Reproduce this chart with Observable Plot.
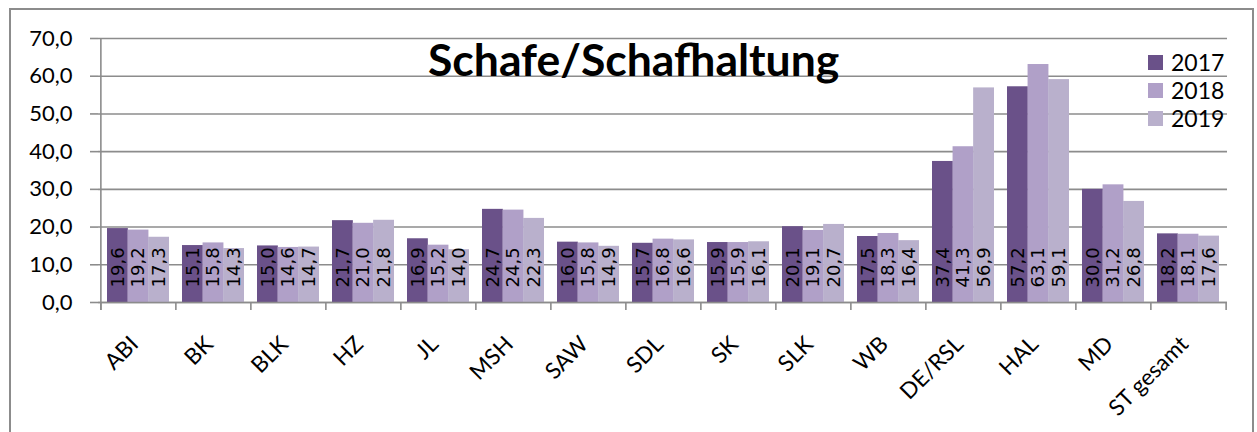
<!DOCTYPE html>
<html>
<head>
<meta charset="utf-8">
<script src="https://cdn.jsdelivr.net/npm/d3@7"></script>
<script src="https://cdn.jsdelivr.net/npm/@observablehq/plot@0.6"></script>
<style>
  html, body { margin: 0; padding: 0; background: #fff; width: 1257px; height: 432px; overflow: hidden; }
  #frame { position: absolute; left: 9px; top: 8px; width: 1245px; height: 440px; border: 2px solid #8c8c8c; box-sizing: border-box; }
  #chart { position: absolute; left: 0; top: 0; }
  #title { position: absolute; left: 428px; top: 37px; font-family: Lato, sans-serif; font-weight: bold; font-size: 44.5px; line-height: 1; color: #000; white-space: nowrap; }
  .leg { position: absolute; left: 1148px; font-family: Lato, sans-serif; font-size: 23px; line-height: 1; color: #000; display: flex; align-items: center; }
  .leg span.sw { width: 15px; height: 15px; display: inline-block; margin-right: 8px; }
</style>
</head>
<body>
<div id="frame"></div>
<div id="chart"></div>
<div id="title">Schafe/Schafhaltung</div>
<div id="legend"></div>
<script>
const categories = ["ABI", "BK", "BLK", "HZ", "JL", "MSH", "SAW", "SDL", "SK", "SLK", "WB", "DE/RSL", "HAL", "MD", "ST gesamt"];
const v2017 = [19.6, 15.1, 15.0, 21.7, 16.9, 24.7, 16.0, 15.7, 15.9, 20.1, 17.5, 37.4, 57.2, 30.0, 18.2];
const v2018 = [19.2, 15.8, 14.6, 21.0, 15.2, 24.5, 15.8, 16.8, 15.9, 19.1, 18.3, 41.3, 63.1, 31.2, 18.1];
const v2019 = [17.3, 14.3, 14.7, 21.8, 14.0, 22.3, 14.9, 16.6, 16.1, 20.7, 16.4, 56.9, 59.1, 26.8, 17.6];
const years = ["2017", "2018", "2019"];
const colors = ["#6a5189", "#b0a0c8", "#b9b0cc"];
const yTicks = [0, 10, 20, 30, 40, 50, 60, 70];

const series = [v2017, v2018, v2019];
const rows = series.map((vals, s) => categories.map((c, i) => ({cat: c, value: vals[i], year: years[s]})));

const W = 1257, H = 432;
const mL = 98, mR = 30, mT = 38, mB = 130;
const step = (W - mL - mR) / categories.length;
const padInner = 0.18;
const bw = step * (1 - padInner);
const sub = bw / 3;
const fmt = v => d3.format(".1f")(v).replace(".", ",");
const gray = "#8c8c8c";

const marks = [
  Plot.gridY(yTicks, {stroke: gray, strokeOpacity: 1, strokeWidth: 1.6}),
  Plot.axisY(yTicks, {label: null, tickSize: 8, tickPadding: 18, tickFormat: fmt, stroke: gray, strokeWidth: 1.6, fontSize: 22, fontFamily: "Lato", fill: "#000"}),
];
rows.forEach((data, s) => {
  marks.push(Plot.barY(data, {x: "cat", y: "value", fill: colors[s], insetLeft: s * sub, insetRight: (2 - s) * sub}));
});
marks.push(Plot.ruleY([0], {stroke: gray, strokeWidth: 1.6}));
marks.push(Plot.ruleX([categories[0]], {x: d => d, y1: 70, y2: 0, dx: -step / 2, insetBottom: -8, stroke: gray, strokeWidth: 1.6}));
marks.push(Plot.ruleX(categories, {x: d => d, y1: 0, y2: 0, dx: -step / 2, insetBottom: -8, stroke: gray, strokeWidth: 1.6}));
marks.push(Plot.ruleX([categories[categories.length - 1]], {x: d => d, y1: 0, y2: 0, dx: step / 2, insetBottom: -8, stroke: gray, strokeWidth: 1.6}));
rows.forEach((data, s) => {
  marks.push(Plot.text(data, {x: "cat", y: 0, text: d => fmt(d.value), rotate: -90, textAnchor: "start", lineAnchor: "middle", dx: (s - 1) * sub, dy: -15, fontSize: 18, fontFamily: "DejaVu Sans", fill: "#000"}));
});
marks.push(Plot.text(categories, {x: d => d, y: 0, text: d => d, rotate: -45, textAnchor: "end", lineAnchor: "middle", dx: -4, dy: 38, fontSize: 22.5, fontFamily: "Lato", fill: "#000"}));

const chart = Plot.plot({
  width: W, height: H,
  marginLeft: mL, marginRight: mR, marginTop: mT, marginBottom: mB,
  style: {background: "transparent", fontFamily: "Lato", color: "#000"},
  x: {domain: categories, paddingInner: padInner, paddingOuter: padInner / 2, axis: null},
  y: {domain: [0, 70], axis: null},
  marks
});
document.getElementById("chart").appendChild(chart);

const legend = document.getElementById("legend");
const legTops = [51, 79, 107];
years.forEach((y, i) => {
  const d = document.createElement("div");
  d.className = "leg";
  d.style.top = legTops[i] + "px";
  d.innerHTML = `<span class="sw" style="background:${colors[i]}"></span>${y}`;
  legend.appendChild(d);
});
</script>
</body>
</html>
